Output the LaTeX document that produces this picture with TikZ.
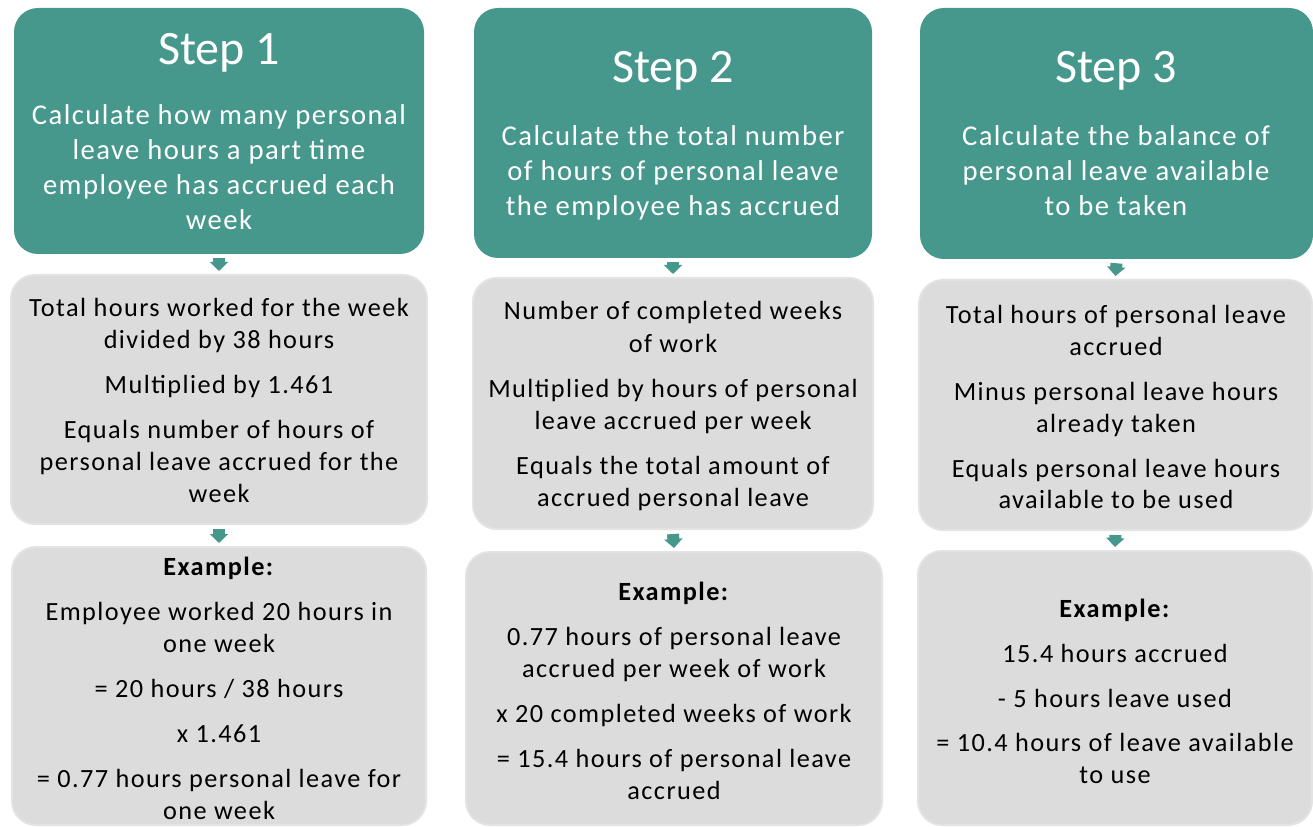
\documentclass[tikz,border=0pt]{standalone}
\usepackage{fontspec}
\setmainfont{Carlito}
\newfontfamily\widefont[LetterSpace=5.5]{Carlito}
\newfontfamily\tealfont[LetterSpace=5]{Carlito}
\usetikzlibrary{arrows.meta}
\definecolor{tealc}{HTML}{46978C}
\definecolor{gfill}{HTML}{DCDCDC}
\definecolor{gline}{HTML}{E3E3E3}
\tikzset{
 tealbox/.style={fill=tealc, draw=none, rounded corners=18pt, inner sep=0pt},
 graybox/.style={fill=gfill, draw=gline, line width=1.5pt, rounded corners=18pt, inner sep=0pt},
 steptitle/.style={anchor=base, text=white, font=\fontsize{36}{44}\selectfont, inner sep=0pt},
 tealtxt/.style={anchor=base, text=white, font=\tealfont\fontsize{21.5}{26}\selectfont, inner sep=0pt},
 graytxt/.style={anchor=base, text=black, font=\widefont\fontsize{19.7}{24}\selectfont, inner sep=0pt},
 flow/.style={draw=tealc, line width=9pt, -{Triangle[width=13.5pt,length=6.75pt]}},
}
\newcommand\mkbox[6]{\node[#6, minimum width={(#4-#2)*0.75pt}, minimum height={(#5-#3)*0.75pt}] (#1) at ({(#2+#4)/2},{(#3+#5)/2}) {};}
\begin{document}
\begin{tikzpicture}[x=0.75pt,y=-0.75pt]
\useasboundingbox (0,0) rectangle (1313,827);
% boxes
\mkbox{t1}{14}{8}{424}{254}{tealbox}
\mkbox{t2}{474}{8}{872}{258}{tealbox}
\mkbox{t3}{920}{8}{1313}{259}{tealbox}
\mkbox{g1}{11}{275}{427}{524}{graybox}
\mkbox{g2}{473}{278}{873}{529}{graybox}
\mkbox{g3}{919}{280}{1312}{530}{graybox}
\mkbox{e1}{12}{547}{426}{825}{graybox}
\mkbox{e2}{466}{552}{882}{825}{graybox}
\mkbox{e3}{918}{551}{1312}{825}{graybox}
% arrows
\draw[flow] ([yshift=-3pt]t1.south) -- ([yshift=2.25pt]g1.north);
\draw[flow] ([yshift=-3pt]t2.south) -- ([yshift=2.25pt]g2.north);
\draw[flow] ([yshift=-3pt]t3.south) -- ([yshift=2.25pt]g3.north);
\draw[flow] ([yshift=-3pt]g1.south) -- ([yshift=2.25pt]e1.north);
\draw[flow] ([yshift=-3pt]g2.south) -- ([yshift=2.25pt]e2.north);
\draw[flow] ([yshift=-3pt]g3.south) -- ([yshift=2.25pt]e3.north);
% step titles
\node[steptitle] (s1) at (219,65) {Step 1};
\node[steptitle] (s2) at (673,83) {Step 2};
\node[steptitle] (s3) at (1116,83) {Step 3};
% teal texts
\foreach \y/\t [count=\i] in {125/Calculate how many personal,160/leave hours a part time,195/employee has accrued each,230/week}
  \node[tealtxt] (ta\i) at (219,\y) {\t};
\foreach \y/\t [count=\i] in {146/Calculate the total number,181/of hours of personal leave,216/the employee has accrued}
  \node[tealtxt] (tb\i) at (673,\y) {\t};
\foreach \y/\t [count=\i] in {146/Calculate the balance of,181/personal leave available,216/to be taken}
  \node[tealtxt] (tc\i) at (1116,\y) {\t};
% gray texts
\foreach \y/\t [count=\i] in {316/Total hours worked for the week,348/divided by 38 hours,393/Multiplied by 1.461,438/Equals number of hours of,470/personal leave accrued for the,502/week}
  \node[graytxt] (ga\i) at (219,\y) {\t};
\foreach \y/\t [count=\i] in {320/Number of completed weeks,352/of work,397/Multiplied by hours of personal,429/leave accrued per week,474/Equals the total amount of,506/accrued personal leave}
  \node[graytxt] (gb\i) at (673,\y) {\t};
\foreach \y/\t [count=\i] in {323/Total hours of personal leave,355/accrued,400/Minus personal leave hours,432/already taken,477/Equals personal leave hours,508/available to be used}
  \node[graytxt] (gc\i) at (1116,\y) {\t};
% examples
\foreach \y/\t [count=\i] in {575/\textbf{Example:},620/Employee worked 20 hours in,652/one week,697/{= 20 hours / 38 hours},742/x 1.461,787/= 0.77 hours personal leave for,819/one week}
  \node[graytxt] (ea\i) at (219,\y) {\t};
\foreach \y/\t [count=\i] in {600/\textbf{Example:},645/0.77 hours of personal leave,677/accrued per week of work,722/x 20 completed weeks of work,767/= 15.4 hours of personal leave,799/accrued}
  \node[graytxt] (eb\i) at (674,\y) {\t};
\foreach \y/\t [count=\i] in {617/\textbf{Example:},662/15.4 hours accrued,707/- 5 hours leave used,751/= 10.4 hours of leave available,783/to use}
  \node[graytxt] (ec\i) at (1115,\y) {\t};
\end{tikzpicture}
\end{document}
